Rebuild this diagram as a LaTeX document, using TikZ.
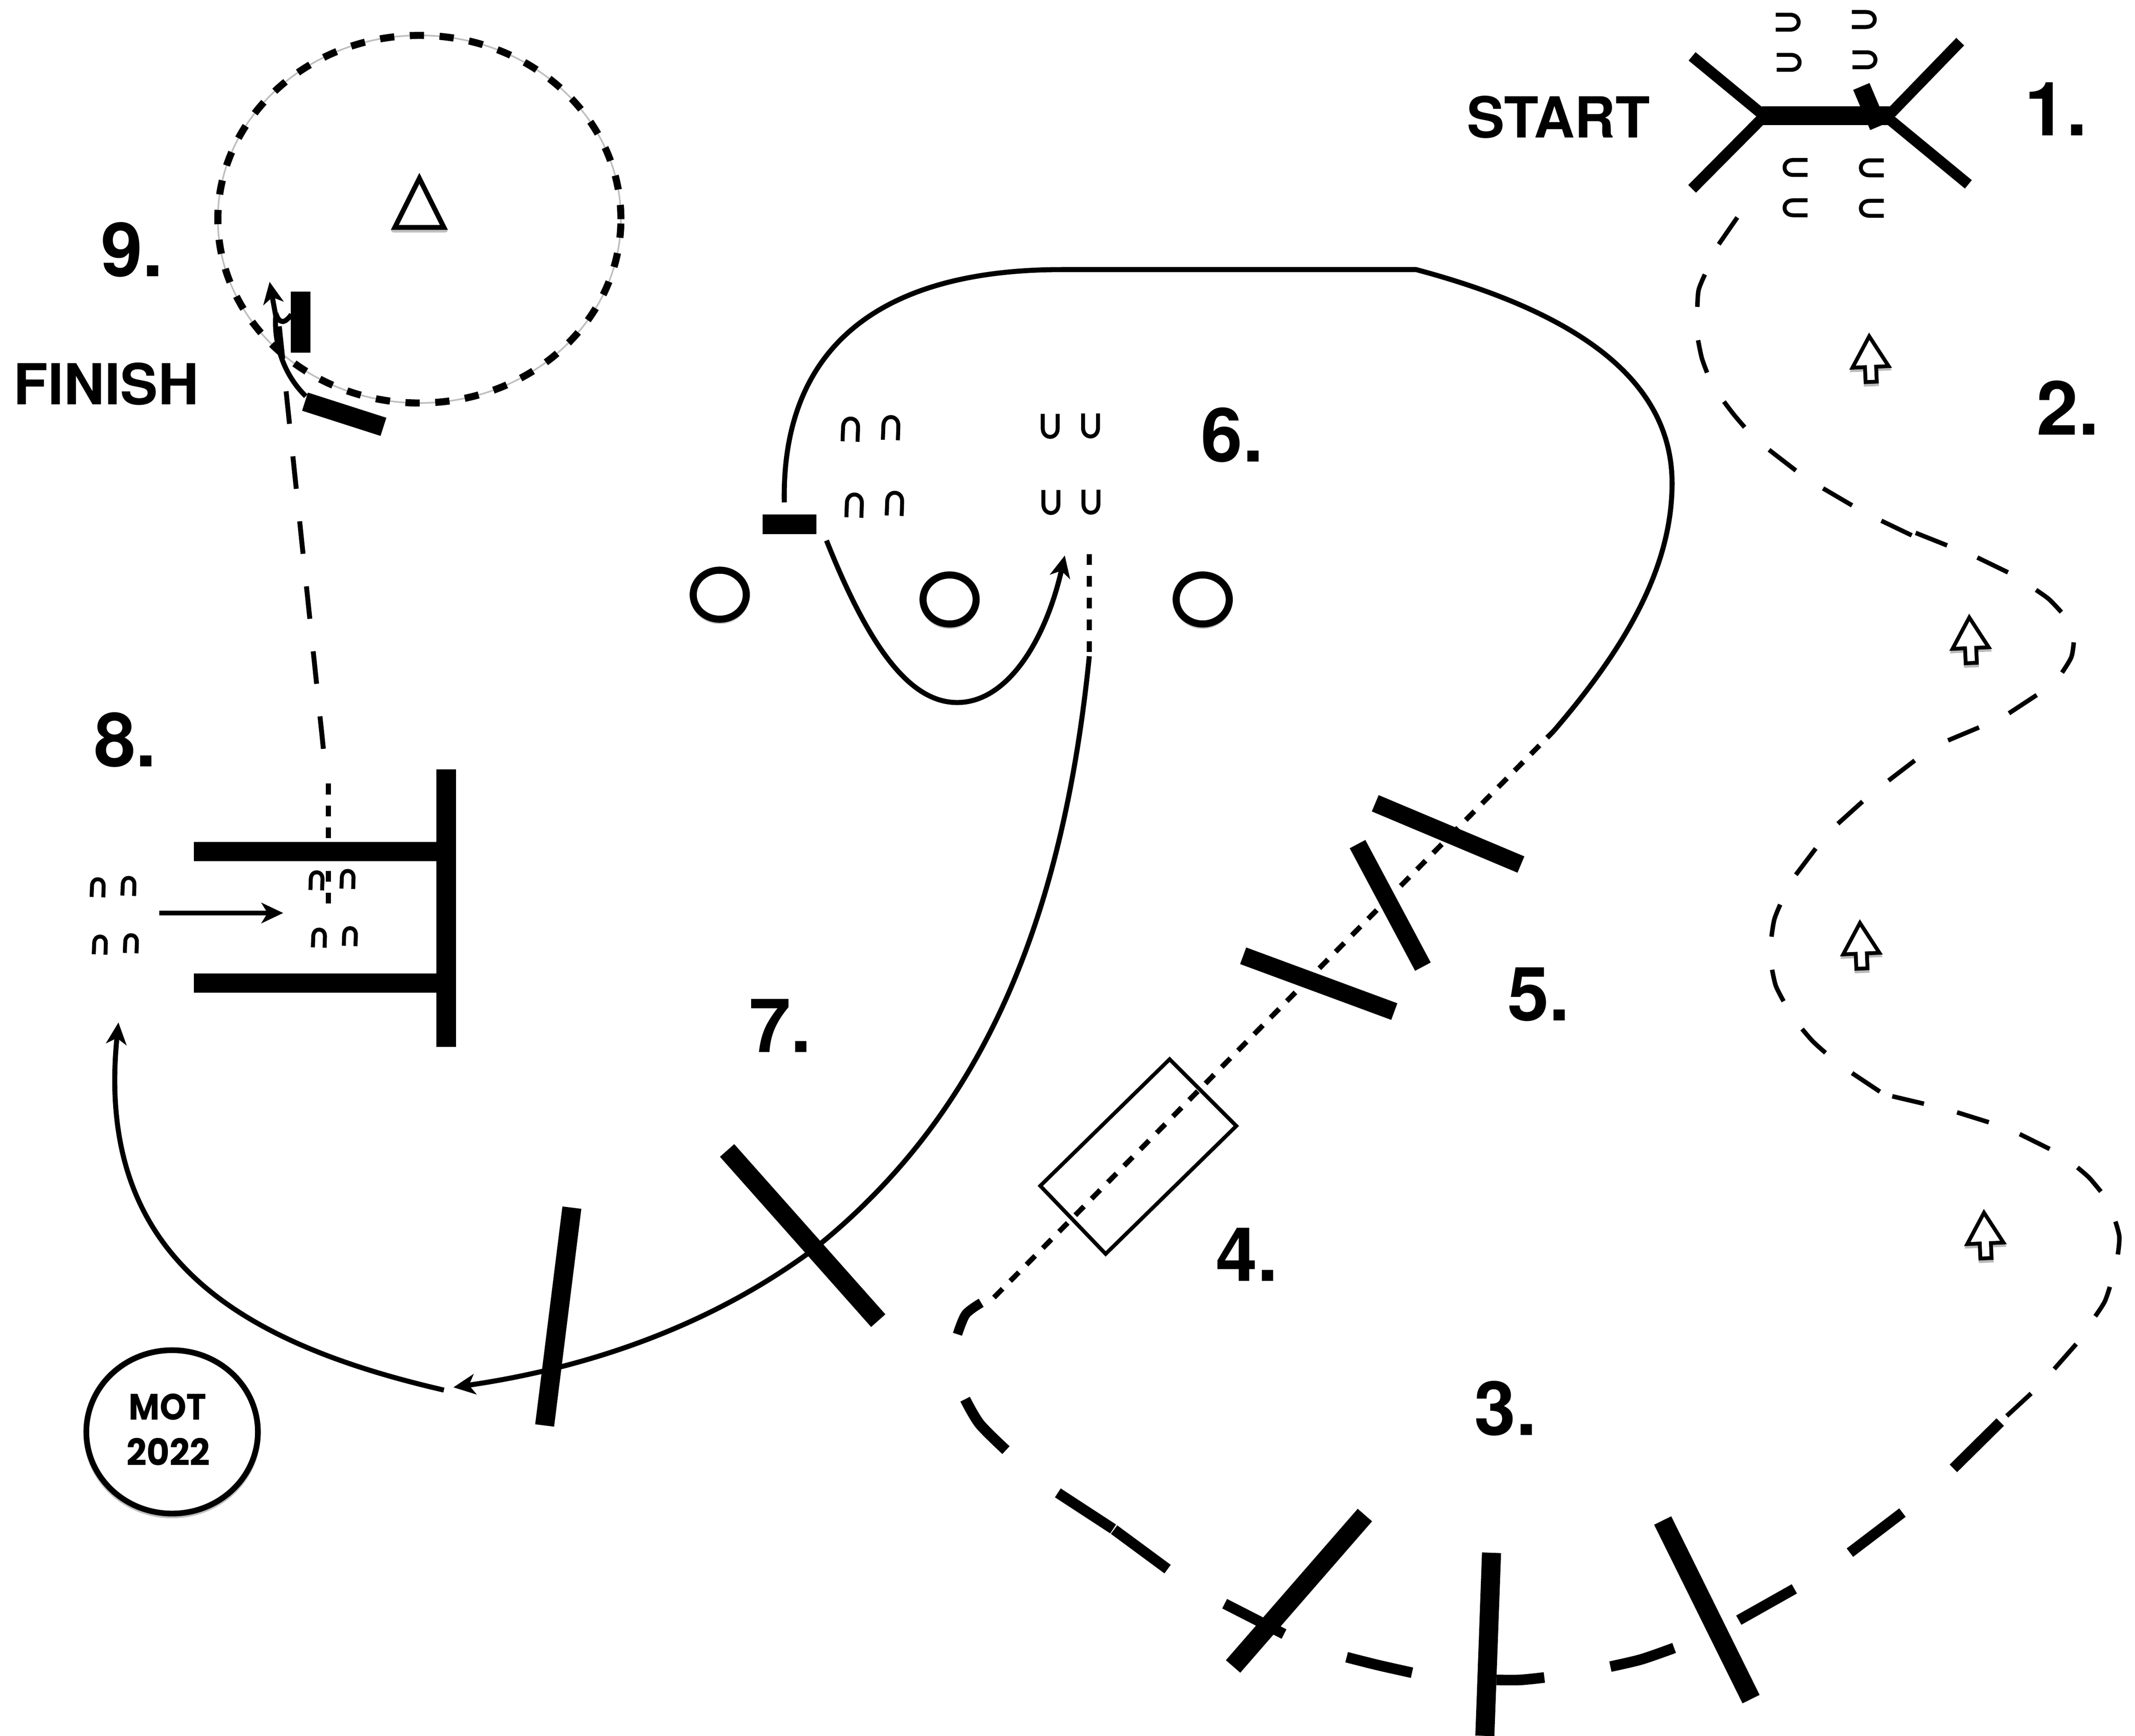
\documentclass[tikz,border=0pt]{standalone}
\usepackage{fontspec}
\setmainfont{TeX Gyre Heros}
\newfontfamily\motfont{Poppins}
\usetikzlibrary{arrows.meta}
\tikzset{
  cone/.pic={\draw[line width=2.9pt,line cap=butt] (-5.5,8.5) -- (-5.5,-2) .. controls (-5.5,-10.5) and (5.5,-10.5) .. (5.5,-2) -- (5.5,8.5);},
  hollowup/.pic={
    \fill[gray!55,shift={(0,1.8)}] (0,-19.5) -- (15.5,7.4) -- (5.5,7.4) -- (5.5,18.5) -- (-5.5,18.5) -- (-5.5,7.4) -- (-15.5,7.4) -- cycle;
    \draw[line width=2.8pt,fill=white,line join=miter] (0,-16.5) -- (13.3,6) -- (4.1,6) -- (4.1,17) -- (-4.1,17) -- (-4.1,6) -- (-13.3,6) -- cycle;},
  bar/.style={line width=#1,line cap=butt},
  thin route/.style={line width=3.7pt,line cap=butt},
  route dash/.style={line width=3.3pt,line cap=butt},
  long dash/.style={line width=3.6pt,dash pattern=on 25pt off 20pt},
  short dash/.style={line width=3.8pt,dash pattern=on 8pt off 8pt},
  thick dash/.style={line width=7.8pt,line cap=butt},
  tip/.style={-{Stealth[length=16pt,width=15pt,inset=4.5pt]}},
  num/.style={font=\fontsize{55pt}{55pt}\selectfont\bfseries,anchor=base,inner sep=0pt},
  word/.style={font=\fontsize{41.5pt}{42pt}\selectfont\bfseries,anchor=base,inner sep=0pt},
  mot/.style={font=\motfont\bfseries\fontsize{27pt}{27pt}\selectfont,anchor=base,inner sep=0pt,transform shape},
  ovalring/.style={line width=5.2pt,fill=white},
}
\newcommand{\ovalat}[2]{%
  \draw[gray!50,line width=4pt] (#1,#2+1.5) ellipse [x radius=19.5pt,y radius=18pt];
  \draw[ovalring] (#1,#2) ellipse [x radius=19.5pt,y radius=18pt];}
\begin{document}
\begin{tikzpicture}[x=1pt,y=-1pt,line join=round]
\useasboundingbox[fill=white] (0,0) rectangle (1568,1275);

% Gate 1
\draw[bar=8pt] (1242.7,41.4) -- (1298,87);
\draw[bar=8pt] (1242.7,138.7) -- (1298,83);
\draw[bar=8pt] (1439.6,30.6) -- (1384,88);
\draw[bar=8pt] (1445.6,135.4) -- (1382,83);
\draw[bar=14pt] (1294,85) -- (1388,85);
\draw[bar=13pt] (1367,63.5) -- (1379.5,93);
\foreach \p in {(1312.6,16.3),(1368.5,14.3),(1313.3,45.8),(1369,43.9)} \pic[rotate=-90] at \p {cone};
\foreach \p in {(1319,123),(1375,123.3),(1319,152.6),(1375,153)} \pic[rotate=90] at \p {cone};

% Route 2 (thin dashes)
\draw[route dash]
  (1275.9,159.7) -- (1262.3,179.4)
  plot[smooth] coordinates {(1252.1,201.6) (1247.5,213) (1246.6,225.4)}
  plot[smooth] coordinates {(1247.1,249.9) (1249.8,262.8) (1253.7,273.7)}
  plot[smooth] coordinates {(1266.1,295) (1273.6,304.8) (1281.3,313.8)}
  (1299.2,330.4) -- (1318.9,345.6)
  (1338.9,358.7) -- (1360.2,371.2)
  (1381.7,382.5) -- (1404,393.2)
  (1406.9,391.4) -- (1430,400.6)
  (1452.2,409.5) -- (1474.7,420.4)
  plot[smooth] coordinates {(1495.3,433.3) (1504.8,440.1) (1513.9,449.6)}
  plot[smooth] coordinates {(1523,471.8) (1521.2,482.7) (1514.4,494)}
  (1495.8,510.5) -- (1475.4,523.9)
  (1453.4,534.3) -- (1430.7,543.8)
  (1406.2,558.6) -- (1387,573.3)
  (1367.9,588.7) -- (1349.8,605)
  (1333.5,623.2) -- (1318.9,642.5)
  plot[smooth] coordinates {(1307.4,664.4) (1303.1,675.3) (1301,688)}
  plot[smooth] coordinates {(1301.5,712.3) (1304.2,724.1) (1309.9,735.4)}
  plot[smooth] coordinates {(1323.5,755.8) (1331.4,764.9) (1340.7,773.3)}
  (1360.2,788.2) -- (1380.6,801.8)
  (1389.7,805.2) -- (1413,810.7)
  (1437.3,817) -- (1460.6,824.3)
  (1483.3,833) -- (1505.3,843.9)
  plot[smooth] coordinates {(1525.7,857.5) (1534.3,865) (1542.9,875.2)}
  plot[smooth] coordinates {(1553.6,897.2) (1556.5,908.5) (1555.4,921.4)}
  plot[smooth] coordinates {(1549.5,945.2) (1545.7,956.1) (1538.8,966.8)}
  (1524.8,987.2) -- (1508.7,1005.5)
  (1491.7,1023.5) -- (1473.8,1040);
\foreach \p in {(1373.5,263.5),(1447,470),(1366.7,694.4),(1457.8,907.2)} \pic[rotate=2.5] at \p {hollowup};

% Section 3
\draw[thick dash] (1469,1044.5) -- (1434.6,1078.5);
\draw[thick dash] (1397.2,1111) -- (1358.6,1140.4);
\draw[thick dash] (1277,1190) -- (1317.8,1167);
\draw[thick dash] plot[smooth] coordinates {(1182.7,1224.1) (1205.4,1218.8) (1229.5,1210.4)};
\draw[thick dash] plot[smooth] coordinates {(1099,1233.9) (1116.4,1233.9) (1134.2,1232.1)};
\draw[thick dash] plot[smooth] coordinates {(989,1217.2) (1012,1223) (1037,1228.6)};
\draw[thick dash] (899.4,1177.9) -- (943,1200.2);
\draw[thick dash] (776.9,1096.5) -- (817.5,1123);
\draw[thick dash] (818.2,1123.5) -- (857.5,1152.5);
\draw[thick dash] plot[smooth] coordinates {(708.8,1027.7) (719.5,1045.9) (738.8,1065.1)};
\draw[line width=7pt,line cap=butt] plot[smooth] coordinates {(720.6,956.9) (709.3,965.3) (703.2,980)};
\draw[bar=14pt] (1002.4,1112.8) -- (905.6,1224);
\draw[bar=14pt] (1095.4,1140.5) -- (1090.5,1275);
\draw[bar=14pt] (1221.1,1116.8) -- (1286,1248);

% Sections 4 and 5
\draw[line width=3.8pt,dash pattern=on 9pt off 8pt] (730,953) -- (1141,537);
\draw[line width=2.8pt,line join=miter] (859,778) -- (908,827) -- (812,921) -- (764,871) -- cycle;
\draw[bar=13pt] (1010,590) -- (1117,635);
\draw[bar=13pt] (997,620) -- (1045,710);
\draw[bar=13pt] (913,702) -- (1024,743);

% Long curve to section 6
\draw[thin route] (576,369) .. controls (574,260) and (640,198) .. (780,198) -- (1040,198) .. controls (1160,230) and (1228,280) .. (1228,355) .. controls (1228,420) and (1190,480) .. (1141,537);

% Section 6
\fill (560.2,377.8) rectangle (599.5,392.2);
\foreach \p in {(624.6,315.8),(654.2,314.7),(627.4,371.6),(657,370.3)} \pic[rotate=-2] at \p {cone};
\foreach \p in {(771.3,312.5),(800.9,312.2),(771.8,368.4),(801.2,368.2)} \pic[rotate=180] at \p {cone};
\ovalat{528.6}{436.8}
\ovalat{697.4}{440.3}
\ovalat{883.3}{440.3}
\draw[thin route,tip] (607,397) .. controls (640,480) and (670,516) .. (703,516) .. controls (740,516) and (768,470) .. (782,408);
\draw[short dash] (800,407) -- (800,482);

% Section 7
\draw[thin route,tip] (800,482) .. controls (780,680) and (720,820) .. (597,918) .. controls (520,975) and (430,1005) .. (333,1019);
\draw[bar=14pt] (534,845) -- (645,970);
\draw[bar=14pt] (420,887) -- (400,1047);
\draw[thin route,tip] (326,1021) .. controls (170,985) and (70,920) .. (87,751);

% Section 8
\fill (320.6,565.2) rectangle (335,769);
\fill (142.4,618.3) rectangle (321,632.6);
\fill (142.4,715) rectangle (321,729.2);
\draw[short dash] (241.1,575.6) -- (241.1,665);
\foreach \p in {(232.5,647.2),(255.3,646.2),(234.3,689.3),(257,688.2),(71.8,652.3),(94.4,651.3),(73.4,694.4),(96.2,693.4)} \pic[rotate=-2,scale=.78] at \p {cone};
\draw[thin route,tip] (117,670.6) -- (208,670.6);

% Section 9
\draw[gray!50,line width=1.2pt] (308,161) ellipse [x radius=148pt,y radius=135pt];
\draw[line width=5.2pt,dash pattern=on 10.5pt off 11.4pt] (308,161) ellipse [x radius=148pt,y radius=135pt];
\draw[gray!50,line width=3.5pt] (308,133) -- (327,169) -- (289,169) -- cycle;
\draw[line width=3.6pt,fill=white,line join=miter] (308,131) -- (326,167) -- (290,167) -- cycle;
\draw[long dash,dash pattern=on 24pt off 24pt] (237.5,550) -- (203.5,224);
\fill (213.5,214.2) rectangle (227.9,259);
\draw[bar=14pt] (224,295) -- (281.6,313.5);
\draw[thin route,tip] (224.6,291) .. controls (210,277) and (201,255) .. (202.5,232) -- (198,207);
\draw[thin route] (202.5,230) .. controls (205,238) and (209,238) .. (214,231);

% MOT badge
\draw[gray!50,line width=4pt] (126.4,1053.2) ellipse [x radius=63pt,y radius=60pt];
\draw[line width=4.2pt,fill=white] (126.4,1051.7) ellipse [x radius=63pt,y radius=60pt];
\node[mot,xscale=.92] (motword) at (123,1043) {MOT};
\node[mot,xscale=.96] (motyear) at (123.6,1076.5) {2022};

% Labels
\node[word] (startlabel) at (1144.5,101) {START};
\node[word] (finishlabel) at (78,297) {FINISH};
\node[num] (n1) at (1510,99.6) {1.};
\node[num] (n2) at (1518.7,319.5) {2.};
\node[num] (n3) at (1105.7,1054.1) {3.};
\node[num] (n4) at (915.8,941) {4.};
\node[num] (n5) at (1130,749.5) {5.};
\node[num] (n6) at (905,339) {6.};
\node[num] (n7) at (573,773) {7.};
\node[num] (n8) at (92,563) {8.};
\node[num] (n9) at (97,203) {9.};
\end{tikzpicture}
\end{document}
